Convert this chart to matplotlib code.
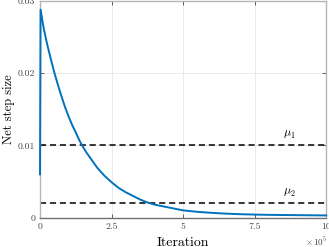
import numpy as np
import matplotlib
matplotlib.use("Agg")
import matplotlib.pyplot as plt

plt.rcParams['font.family'] = ['cmr10', 'DejaVu Serif']
plt.rcParams['mathtext.fontset'] = 'cm'
plt.rcParams['axes.formatter.use_mathtext'] = True

# iterations in units of 1e5
iteration = [0, 0.02, 0.125, 0.25, 0.375, 0.5, 0.625, 0.75, 0.875, 1.0, 1.125,
             1.25, 1.375, 1.5, 1.625, 1.75, 2.0, 2.25, 2.5, 2.75, 3.0, 3.25,
             3.5, 3.75, 4.0, 4.5, 5.0, 5.5, 6.0, 6.5, 7.0, 7.5, 8.0, 9.0, 10.0]
step_size = [0.006, 0.0288, 0.0263, 0.0240, 0.0220, 0.0201, 0.0184, 0.0168,
             0.0153, 0.0140, 0.0128, 0.0118, 0.0107, 0.0098, 0.0090, 0.0083,
             0.0069, 0.0058, 0.0049, 0.0041, 0.0035, 0.0030, 0.0025, 0.0021,
             0.0018, 0.0014, 0.0010, 0.0008, 0.00066, 0.00055, 0.00047,
             0.00042, 0.00038, 0.00034, 0.0003]
mu_values = [0.01, 0.002]
mu_labels = [r'$\mu_1$', r'$\mu_2$']
xticks = [0, 2.5, 5, 7.5, 10]
xtick_labels = ['0', '2.5', '5', '7.5', '10']
yticks = [0, 0.01, 0.02, 0.03]
ytick_labels = ['0', '0.01', '0.02', '0.03']

fig = plt.figure(figsize=(3.29, 2.47), dpi=100)
ax = fig.add_axes([0.1216, 0.119, 0.870, 0.877])

ax.plot(iteration, step_size, color=(0, 0.447, 0.741), lw=1.4, clip_on=False,
        zorder=3, solid_joinstyle='round')
for mu, lab in zip(mu_values, mu_labels):
    ax.axhline(mu, color='black', ls=(0, (4, 2.5)), lw=1.1, zorder=2)
    ax.text(8.7, mu + 0.0006, lab, fontsize=8.5, ha='center', va='bottom')

ax.set_xlim(0, 10)
ax.set_ylim(0, 0.03)
ax.set_xticks(xticks)
ax.set_xticklabels(xtick_labels)
ax.set_yticks(yticks)
ax.set_yticklabels(ytick_labels)
ax.tick_params(direction='in', labelsize=7, length=3, width=0.6, colors='#444444',
               top=True, right=True)
ax.grid(True, color='#e6e6e6', lw=0.6)
ax.set_axisbelow(True)
for side in ['top', 'right', 'left']:
    ax.spines[side].set_color('#b5b5b5')
    ax.spines[side].set_linewidth(1.0)
ax.spines['bottom'].set_color('#707070')
ax.spines['bottom'].set_linewidth(1.0)

ax.set_xlabel('Iteration', fontsize=10, labelpad=4)
ax.set_ylabel('Net step size', fontsize=9, labelpad=2)
ax.text(1.005, -0.083, r'$\times\,10^5$', transform=ax.transAxes, fontsize=6.5,
        ha='right', va='top', color='#444444')

fig.savefig('out.png', dpi=100)
